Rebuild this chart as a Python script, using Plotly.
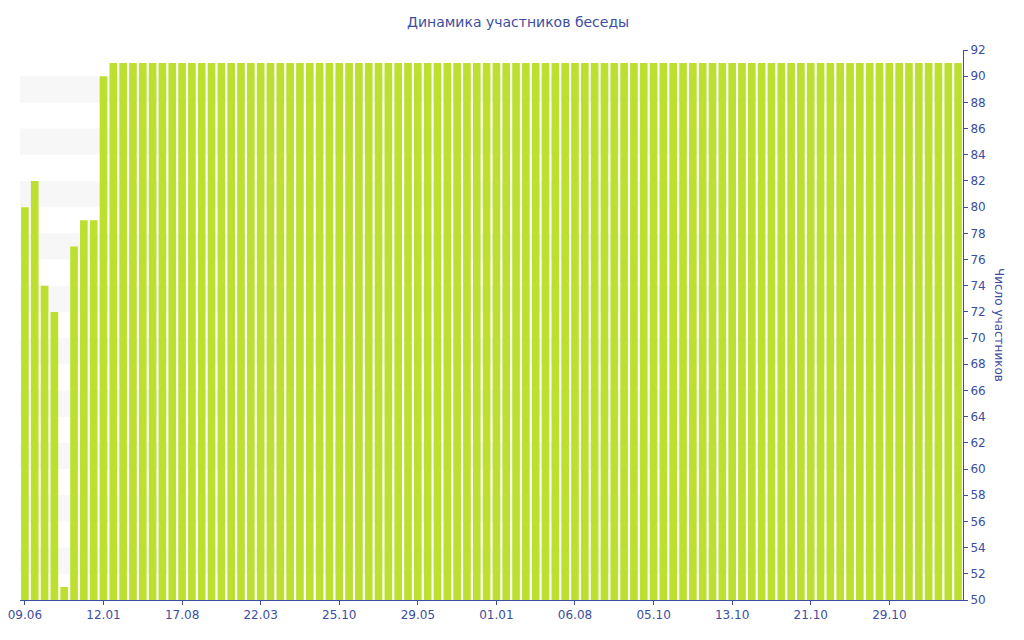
import plotly.graph_objects as go

# Data
bar_index = list(range(96))
participants = [80, 82, 74, 72, 51, 77, 79, 79, 90] + [91] * 87
tick_positions = [0, 8, 16, 24, 32, 40, 48, 56, 64, 72, 80, 88]
tick_labels = ["09.06", "12.01", "17.08", "22.03", "25.10", "29.05",
               "01.01", "06.08", "05.10", "13.10", "21.10", "29.10"]
band_starts = [52, 56, 60, 64, 68, 72, 76, 80, 84, 88]

blue = "#3c4ea0"
font = "DejaVu Sans"

fig = go.Figure()
fig.add_trace(go.Bar(
    x=bar_index, y=participants,
    marker=dict(color="#bde030", line=dict(width=0)),
    width=0.78,
))

shapes = []
for s in band_starts:
    shapes.append(dict(type="rect", xref="paper", yref="y", x0=0, x1=1,
                       y0=s, y1=s + 2, fillcolor="#f7f7f7",
                       line=dict(width=0), layer="below"))

fig.update_layout(
    width=1016, height=632,
    margin=dict(l=12, r=61, t=42, b=40, autoexpand=False),
    paper_bgcolor="white", plot_bgcolor="white",
    showlegend=False,
    shapes=shapes,
    xaxis=dict(
        range=[-0.5, 95.5], automargin=False, ticklabeloverflow="allow",
        tickmode="array", tickvals=tick_positions, ticktext=tick_labels,
        showgrid=False, zeroline=False,
        showline=True, linecolor=blue, linewidth=1,
        ticks="outside", ticklen=4, tickcolor=blue,
        tickfont=dict(family=font, size=12, color=blue),
    ),
    yaxis=dict(
        side="right", range=[50, 92], dtick=2, tick0=50, automargin=False,
        ticklabeloverflow="allow",
        showgrid=False, zeroline=False,
        showline=True, linecolor=blue, linewidth=1,
        ticks="outside", ticklen=4, tickcolor=blue,
        tickfont=dict(family=font, size=12, color=blue),
    ),
    annotations=[
        dict(text="Динамика участников беседы", xref="paper", yref="paper",
             x=(518 - 20) / 943, y=1 + 28 / 550, xanchor="center",
             yanchor="middle", showarrow=False,
             font=dict(family=font, size=14, color=blue)),
        dict(text="Число участников", xref="paper", yref="paper",
             x=(999 - 20) / 943, y=(600 - 325) / 550, xanchor="center",
             yanchor="middle", textangle=90, showarrow=False,
             font=dict(family=font, size=12, color=blue)),
    ],
    bargap=0.22,
)

fig.write_html("out.html")
